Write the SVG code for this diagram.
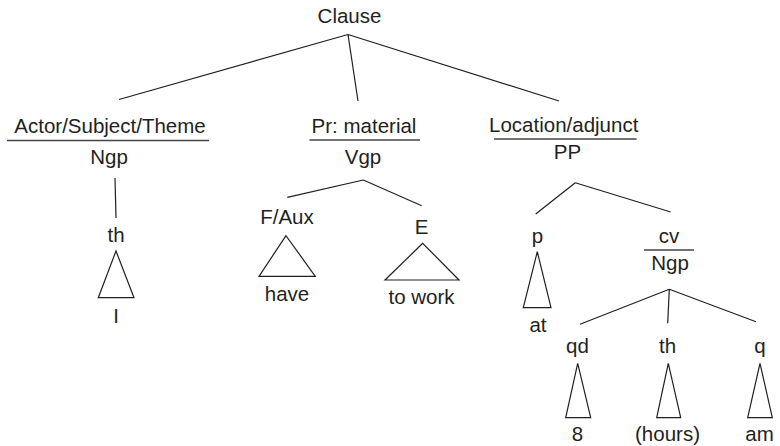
<svg xmlns="http://www.w3.org/2000/svg" width="780" height="446" viewBox="0 0 780 446">
<style>
text{font-family:"Liberation Sans",Arial,sans-serif;font-size:20.5px;fill:#231f20;text-anchor:middle}
.e{stroke:#231f20;stroke-width:1.2;fill:none}
.rule{stroke:#444;stroke-width:1.6}
.tri{stroke:#231f20;stroke-width:1.2;fill:none;stroke-linejoin:miter}
</style>
<rect width="780" height="446" fill="#fff"/>
<g id="connectors" class="e">
<path d="M348,34.5 L119,99.5 M348,34.5 L358,101 M348,34.5 L559,101"/>
<path d="M115,178 L116,218"/>
<path d="M363.3,180 L287.3,197.3 M363.3,180 L421.7,205.7"/>
<path d="M575.3,182.7 L535.7,214 M575.3,182.7 L670.7,212"/>
<path d="M669.3,289.3 L580,324.3 M669.3,289.3 L667.7,323.3 M669.3,289.3 L756,321.7"/>
</g>
<g id="clause"><text x="349.5" y="23">Clause</text></g>
<g id="actor">
<text x="110" y="133">Actor/Subject/Theme</text>
<line class="rule" x1="7" y1="140.5" x2="209" y2="140.5"/>
<text x="109" y="163.5">Ngp</text>
</g>
<g id="th1">
<text x="116" y="242">th</text>
<polygon class="tri" points="116,251 98.3,297.7 134,297.7"/>
<text x="116" y="323">I</text>
</g>
<g id="pr">
<text x="364" y="133">Pr: material</text>
<line class="rule" x1="309.5" y1="140" x2="420" y2="140"/>
<text x="363" y="163.5">Vgp</text>
</g>
<g id="faux">
<text x="287" y="224.3">F/Aux</text>
<polygon class="tri" points="286,235.7 259,276.3 315.3,276.3"/>
<text x="287" y="301">have</text>
</g>
<g id="e">
<text x="421.7" y="234">E</text>
<polygon class="tri" points="422.7,243.3 385,280 459,280"/>
<text x="421.5" y="304">to work</text>
</g>
<g id="location">
<text x="563.7" y="131.5">Location/adjunct</text>
<line class="rule" x1="494" y1="139" x2="636.7" y2="139"/>
<text x="567.5" y="158.5">PP</text>
</g>
<g id="p">
<text x="537.5" y="242.7">p</text>
<polygon class="tri" points="537.3,251.7 523.3,307.7 551,307.7"/>
<text x="538" y="331.7">at</text>
</g>
<g id="cv">
<text x="669" y="242.7">cv</text>
<line class="rule" x1="644" y1="250" x2="694" y2="250"/>
<text x="670" y="270">Ngp</text>
</g>
<g id="qd">
<text x="577.5" y="352.7">qd</text>
<polygon class="tri" points="577.7,363.3 565.7,417.7 590.7,417.7"/>
<text x="577.5" y="440.7">8</text>
</g>
<g id="th2">
<text x="667.5" y="352.7">th</text>
<polygon class="tri" points="668.3,363.3 656.7,417.7 680.7,417.7"/>
<text x="667.5" y="440.7">(hours)</text>
</g>
<g id="q">
<text x="760" y="352.7">q</text>
<polygon class="tri" points="760,363.3 747.7,417.7 772.3,417.7"/>
<text x="759.5" y="440.7">am</text>
</g>
</svg>
